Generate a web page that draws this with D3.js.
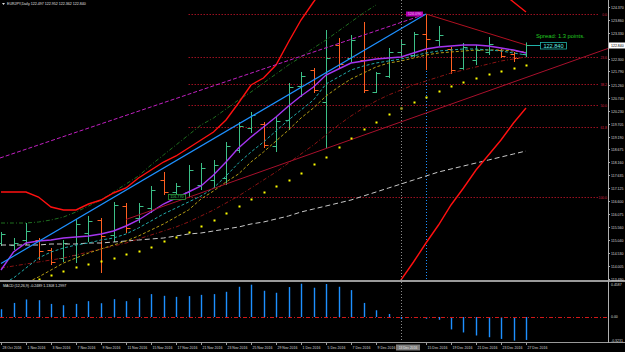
<!DOCTYPE html>
<html>
<head>
<meta charset="utf-8">
<script src="https://cdn.jsdelivr.net/npm/d3@7"></script>
<style>
  html, body { margin: 0; padding: 0; background: #000; }
  svg { display: block; }
  text { font-family: 'Liberation Sans', Arial, sans-serif; }
</style>
</head>
<body>
<div id="chart"></div>
<script>
const dates = ['28 Oct 2016', '31 Oct 2016', '1 Nov 2016', '2 Nov 2016', '3 Nov 2016', '4 Nov 2016', '7 Nov 2016', '8 Nov 2016', '9 Nov 2016', '10 Nov 2016', '11 Nov 2016', '14 Nov 2016', '15 Nov 2016', '16 Nov 2016', '17 Nov 2016', '18 Nov 2016', '21 Nov 2016', '22 Nov 2016', '23 Nov 2016', '24 Nov 2016', '25 Nov 2016', '28 Nov 2016', '29 Nov 2016', '30 Nov 2016', '1 Dec 2016', '2 Dec 2016', '5 Dec 2016', '6 Dec 2016', '7 Dec 2016', '8 Dec 2016', '9 Dec 2016', '12 Dec 2016', '13 Dec 2016', '14 Dec 2016', '15 Dec 2016', '16 Dec 2016', '19 Dec 2016', '20 Dec 2016', '21 Dec 2016', '22 Dec 2016', '23 Dec 2016', '26 Dec 2016', '27 Dec 2016']

const opens = [114.93, 114.85, 115.05, 115.05, 114.65, 114.33, 114.45, 115.33, 115.85, 115.25, 116.41, 115.93, 116.33, 117.45, 116.97, 116.97, 117.25, 117.45, 117.53, 118.65, 119.53, 119.69, 118.81, 119.85, 121.21, 121.85, 120.57, 122.85, 122.33, 122.25, 120.97, 121.61, 122.57, 122.45, 123.29, 123.05, 122.69, 121.93, 122.25, 122.57, 122.65, 122.49, 122.497]
const highs = [115.37, 115.13, 115.73, 115.13, 114.73, 115.05, 115.89, 116.01, 115.93, 116.57, 116.53, 116.53, 117.21, 117.77, 117.33, 118.05, 118.13, 118.25, 118.97, 119.77, 120.17, 119.77, 119.97, 121.33, 121.77, 121.93, 123.45, 123.13, 123.25, 123.77, 121.77, 122.73, 123.05, 123.37, 124.09, 123.61, 122.77, 122.93, 122.85, 123.17, 122.69, 122.57, 122.952]
const lows = [114.81, 114.65, 114.85, 114.25, 114.05, 114.17, 114.13, 114.97, 113.73, 114.97, 115.33, 115.73, 116.13, 116.85, 116.85, 116.77, 117.05, 117.13, 117.25, 118.53, 119.33, 118.73, 118.57, 119.45, 120.77, 120.93, 118.73, 121.93, 122.17, 120.93, 120.93, 121.53, 122.41, 122.37, 121.85, 122.81, 121.69, 121.85, 122.05, 122.45, 122.33, 122.17, 122.362]
const closes = [115.29, 114.93, 115.41, 114.61, 114.17, 114.93, 115.69, 115.81, 115.21, 116.45, 115.53, 116.41, 117.05, 116.97, 117.21, 117.85, 117.93, 118.05, 118.81, 119.61, 120.05, 118.85, 119.81, 121.17, 121.61, 121.05, 122.33, 122.09, 123.05, 121.05, 121.73, 122.57, 122.89, 123.29, 123.09, 123.25, 121.85, 122.77, 122.65, 122.89, 122.41, 122.33, 122.840]

// indicators
const bandUpper = [116.97, 116.97, 116.97, 116.77, 116.37, 116.25, 116.25, 116.49, 116.65, 116.93, 117.13, 117.53, 117.85, 118.17, 118.41, 118.73, 119.05, 119.37, 119.85, 120.53, 121.25, 121.53, 122.05, 122.97, 123.85, 124.57, 125.25, 125.6, 125.9, 126.1, 126.2, 126.3, 126.3, 126.2, 126.0, 125.8, 125.6, 125.45, 125.3, 125.2, 124.97, 124.57, 124.17]
const bandLower = [null, null, null, null, null, null, null, null, null, null, null, null, null, null, null, null, null, null, null, null, null, null, null, null, null, null, null, null, null, null, null, 112.65, 113.45, 114.17, 114.93, 115.65, 116.45, 117.13, 117.85, 118.45, 119.05, 119.73, 120.33]
const maPurple = [113.85, 114.57, 114.93, 115.01, 115.05, 115.13, 115.17, 115.21, 115.29, 115.41, 115.61, 115.85, 116.17, 116.49, 116.73, 116.97, 117.21, 117.65, 118.17, 118.73, 119.17, 119.57, 119.97, 120.41, 120.81, 121.17, 121.65, 121.89, 122.13, 122.21, 122.29, 122.33, 122.37, 122.53, 122.69, 122.77, 122.81, 122.85, 122.85, 122.81, 122.73, 122.65, 122.53]
const maCyan = [113.25, 113.53, 113.93, 114.33, 114.57, 114.73, 114.85, 114.93, 115.05, 115.13, 115.29, 115.53, 115.81, 116.09, 116.33, 116.57, 116.81, 117.13, 117.61, 118.13, 118.57, 118.97, 119.41, 119.85, 120.25, 120.65, 121.29, 121.57, 121.85, 122.01, 122.13, 122.21, 122.29, 122.41, 122.53, 122.61, 122.65, 122.69, 122.69, 122.65, 122.61, 122.53, 122.45]
const maOlive = [112.85, 113.05, 113.33, 113.57, 113.85, 114.13, 114.33, 114.53, 114.69, 114.85, 115.01, 115.21, 115.45, 115.69, 115.97, 116.25, 116.69, 117.01, 117.37, 117.69, 118.17, 118.57, 119.01, 119.45, 119.93, 120.33, 120.81, 121.17, 121.49, 121.73, 121.97, 122.13, 122.21, 122.33, 122.45, 122.53, 122.57, 122.61, 122.65, 122.65, 122.65, 122.61, 122.57]
const maMaroon = [113.93, 114.01, 114.09, 114.17, 114.25, 114.33, 114.45, 114.57, 114.69, 114.81, 114.93, 115.09, 115.25, 115.41, 115.57, 115.77, 116.01, 116.25, 116.53, 116.81, 117.13, 117.45, 117.77, 118.13, 118.49, 118.85, 119.25, 119.65, 120.01, 120.33, 120.61, 120.85, 121.05, 121.25, 121.41, 121.57, 121.73, 121.85, 121.97, 122.09, 122.21, 122.29, 122.37]
const envGreen = [115.73, 115.73, 115.73, 115.77, 115.85, 115.97, 116.17, 116.41, 116.65, 116.97, 117.29, 117.61, 118.05, 118.45, 118.85, 119.25, 119.65, 119.93, 120.29, 120.65, 120.97, 121.33, 121.69, 122.05, 122.37, 122.73, 123.05, 123.41, 123.77, 124.13, 124.45, null, null, null, null, null, null, null, null, null, null, null, null]
const maGray = [114.85, 114.85, 114.85, 114.85, 114.89, 114.89, 114.89, 114.93, 114.93, 114.97, 115.01, 115.05, 115.09, 115.13, 115.21, 115.29, 115.33, 115.41, 115.49, 115.57, 115.69, 115.77, 115.89, 116.01, 116.17, 116.29, 116.41, 116.53, 116.65, 116.81, 116.97, 117.13, 117.29, 117.45, 117.61, 117.77, 117.89, 118.01, 118.13, 118.25, 118.37, 118.49, 118.61]
const sar = [null, null, null, 113.49, 113.65, 113.81, 113.97, 114.09, 114.21, 114.33, 114.49, 114.61, 114.77, 115.01, 115.17, 115.37, 115.61, 115.85, 116.13, 116.41, 116.69, 116.97, 117.21, 117.45, 117.73, 118.09, 118.37, 118.77, 119.13, 119.49, 119.77, 120.09, 120.33, 120.57, 120.77, 121.01, 121.21, 121.37, 121.53, 121.69, 121.81, 121.93, 122.05]
const macdHist = [0.105, 0.19, 0.237, 0.227, 0.177, 0.159, 0.177, 0.214, 0.186, 0.241, 0.214, 0.254, 0.309, 0.286, 0.272, 0.282, 0.299, 0.309, 0.340, 0.408, 0.436, 0.354, 0.327, 0.404, 0.449, 0.395, 0.445, 0.408, 0.363, 0.19, 0.091, 0.041, -0.027, -0.005, -0.023, -0.037, -0.167, -0.208, -0.249, -0.272, -0.295, -0.318, -0.309]

// drawn objects: [bar index, price]
const trendBlue = [[0, 114.11], [34, 124.09]]
const trendMagenta = [[-0.08, 118.33], [34, 124.09]]
const trendPeak = [[34, 124.09], [42, 122.85]]
const trendRising = [[10, 115.87], [49, 122.79]]
const fibHigh = 124.09
const fibLow = 116.77
const fibStart = 15
const fibLevels = [0, 23.6, 38.2, 50, 61.8, 100]

const priceTicks = ['124.370', '123.860', '123.330', '122.300', '121.790', '121.260', '120.740', '120.230', '119.705', '119.190', '118.675', '118.160', '117.635', '117.125', '116.600', '116.075', '115.560', '115.040', '114.530', '114.005', '113.490']
const macdTicks = ['0.4587', '0.00', '-0.3231']
const lastPrice = 122.840
const crossIdx = 32

const W = 625
const H = 352
const axisX = 608
const mainBottom = 280

const svg = d3.select('#chart').append('svg')
  .attr('width', W)
  .attr('height', H)

svg.append('rect').attr('width', W).attr('height', H).attr('fill', '#000')

svg.append('defs').append('clipPath').attr('id', 'mainClip')
  .append('rect').attr('x', 0).attr('y', 0).attr('width', axisX).attr('height', mainBottom)

const x = d3.scaleLinear().domain([0, 42]).range([1, 526])
const y = d3.scaleLinear().domain([113.45, 124.65]).range([mainBottom, 0])
const yM = d3.scaleLinear().domain([-0.3231, 0.4587]).range([341, 283])

const main = svg.append('g').attr('clip-path', 'url(#mainClip)')

// Fibonacci levels
const fibRange = fibHigh - fibLow
fibLevels.forEach(lv => {
  const py = Math.round(y(fibHigh - fibRange * lv / 100)) + 0.5
  main.append('line')
    .attr('x1', x(fibStart)).attr('x2', 598)
    .attr('y1', py).attr('y2', py)
    .attr('stroke', '#9a1020')
    .attr('stroke-dasharray', '1.5,1.5')
  main.append('text')
    .attr('x', 607).attr('y', py + 1.2)
    .attr('text-anchor', 'end')
    .style('font-size', '3.4px')
    .style('fill', '#d02040')
    .text(lv.toFixed(1))
})

// crosshair + peak marker
svg.append('line')
  .attr('x1', Math.round(x(crossIdx)) + 0.5).attr('x2', Math.round(x(crossIdx)) + 0.5)
  .attr('y1', 0).attr('y2', 343)
  .attr('stroke', '#8a8a8a').attr('stroke-dasharray', '1,2')
main.append('line')
  .attr('x1', Math.round(x(34)) + 0.5).attr('x2', Math.round(x(34)) + 0.5)
  .attr('y1', y(fibHigh)).attr('y2', mainBottom)
  .attr('stroke', '#1e90ff').attr('stroke-dasharray', '1,2')

// OHLC bars
const bars = main.append('g')
dates.forEach((d, i) => {
  const bx = Math.round(x(i)) + 0.5
  const col = closes[i] >= opens[i] ? '#3cc088' : '#ff6020'
  bars.append('line').attr('x1', bx).attr('x2', bx)
    .attr('y1', y(highs[i])).attr('y2', y(lows[i]))
    .attr('stroke', col)
  bars.append('line').attr('x1', bx - 4).attr('x2', bx)
    .attr('y1', Math.round(y(opens[i])) + 0.5).attr('y2', Math.round(y(opens[i])) + 0.5)
    .attr('stroke', col)
  bars.append('line').attr('x1', bx).attr('x2', bx + 4)
    .attr('y1', Math.round(y(closes[i])) + 0.5).attr('y2', Math.round(y(closes[i])) + 0.5)
    .attr('stroke', col)
})

// indicator lines
const series = d3.line()
  .defined(d => d != null)
  .x((d, i) => x(i))
  .y(d => y(d))

const addSeries = (data, color, width, dash) => {
  main.append('path')
    .datum(data)
    .attr('d', series)
    .attr('fill', 'none')
    .attr('stroke', color)
    .attr('stroke-width', width)
    .attr('stroke-dasharray', dash || null)
}

addSeries(maGray, '#c8c8c8', 1, '5,3')
addSeries(maMaroon, '#8c1414', 1, '4,2,1,2')
addSeries(envGreen, '#1f6e1f', 1, '4,2,1,2')
addSeries(maOlive, '#b49c14', 1, '3,2')
addSeries(maCyan, '#22a8a8', 1, '3,2')
addSeries(maPurple, '#a535f0', 1.4)
addSeries(bandUpper, '#ff1010', 1.4)
addSeries(bandLower, '#ff1010', 1.4)

const trend = d3.line().x(d => x(d[0])).y(d => y(d[1]))
const addTrend = (data, color, width, dash) => {
  main.append('path')
    .datum(data)
    .attr('d', trend)
    .attr('fill', 'none')
    .attr('stroke', color)
    .attr('stroke-width', width)
    .attr('stroke-dasharray', dash || null)
}
addTrend(trendMagenta, '#c020c0', 1, '4,2')
addTrend(trendRising, '#a8102c', 1)
addTrend(trendPeak, '#b01020', 1)
addTrend(trendBlue, '#1e90ff', 1.2)

// parabolic SAR
main.selectAll('.sar')
  .data(sar.map((v, i) => [i, v]).filter(d => d[1] != null))
  .join('rect')
  .attr('class', 'sar')
  .attr('x', d => Math.round(x(d[0])) - 0.5)
  .attr('y', d => Math.round(y(d[1])) - 0.5)
  .attr('width', 2).attr('height', 2)
  .attr('fill', '#ffff00')

// peak / low labels
svg.append('rect').attr('x', 406).attr('y', y(fibHigh) - 2.5).attr('width', 17).attr('height', 5)
  .attr('fill', '#b000b0')
svg.append('text').attr('x', 414.5).attr('y', y(fibHigh) + 1.4)
  .attr('text-anchor', 'middle').style('font-size', '3.8px').style('fill', '#f0b0f0')
  .text(fibHigh.toFixed(3))
svg.append('rect').attr('x', 168.5).attr('y', y(fibLow) - 2.5).attr('width', 17).attr('height', 5)
  .attr('fill', '#000').attr('stroke', '#2a9a3a').attr('stroke-width', 0.8)
svg.append('text').attr('x', 177).attr('y', y(fibLow) + 1.4)
  .attr('text-anchor', 'middle').style('font-size', '3.8px').style('fill', '#3cc060')
  .text(fibLow.toFixed(3))

// spread + price box
svg.append('text').attr('x', 536).attr('y', 37.5)
  .style('font-size', '5.8px').style('fill', '#22cc22')
  .text('Spread: 1.3 points.')
svg.append('line').attr('x1', 530).attr('x2', 540)
  .attr('y1', Math.round(y(lastPrice)) + 0.5).attr('y2', Math.round(y(lastPrice)) + 0.5)
  .attr('stroke', '#20b2aa')
svg.append('rect').attr('x', 540.5).attr('y', 42.5).attr('width', 26).attr('height', 6.5)
  .attr('fill', '#000').attr('stroke', '#20b2aa').attr('stroke-width', 0.8)
svg.append('text').attr('x', 553.5).attr('y', 47.8)
  .attr('text-anchor', 'middle').style('font-size', '5.6px').style('fill', '#5fe8e0')
  .text(lastPrice.toFixed(3))

// title
svg.append('path').attr('d', 'M2,3 L5,3 L3.5,5 Z').attr('fill', '#ddd')
svg.append('text').attr('x', 7).attr('y', 5.2)
  .style('font-size', '3.6px').style('fill', '#e0e0e0')
  .text('EURJPY,Daily  ' + [opens[42], highs[42], lows[42], closes[42]].map(v => v.toFixed(3)).join(' '))

// MACD panel
svg.selectAll('.macd')
  .data(macdHist)
  .join('rect')
  .attr('class', 'macd')
  .attr('x', (d, i) => Math.round(x(i)) - 0.2)
  .attr('width', 1.4)
  .attr('y', d => Math.min(yM(d), yM(0)))
  .attr('height', d => Math.abs(yM(d) - yM(0)))
  .attr('fill', '#1e90ff')
svg.append('line').attr('x1', 0).attr('x2', axisX)
  .attr('y1', Math.round(yM(0)) + 0.5).attr('y2', Math.round(yM(0)) + 0.5)
  .attr('stroke', '#d01818').attr('stroke-dasharray', '4,2,1,2')
svg.append('text').attr('x', 3).attr('y', 286.5)
  .style('font-size', '3.6px').style('fill', '#e0e0e0')
  .text('MACD (12,26,9) -0.2489 1.1308 1.2997')

// panel frames
svg.append('line').attr('x1', 0).attr('x2', W).attr('y1', 281).attr('y2', 281)
  .attr('stroke', '#9a9a9a').attr('stroke-width', 2)
svg.append('line').attr('x1', 0).attr('x2', W).attr('y1', 342.5).attr('y2', 342.5)
  .attr('stroke', '#9a9a9a')
svg.append('line').attr('x1', axisX + 0.5).attr('x2', axisX + 0.5).attr('y1', 0).attr('y2', 343)
  .attr('stroke', '#b0b0b0')

// price axis
const yAxis = svg.append('g')
priceTicks.forEach(t => {
  const py = Math.round(y(+t)) + 0.5
  yAxis.append('line').attr('x1', axisX).attr('x2', axisX + 2).attr('y1', py).attr('y2', py).attr('stroke', '#b0b0b0')
  yAxis.append('text').attr('x', 611).attr('y', py + 1.3)
    .style('font-size', '3.5px').style('fill', '#d8d8d8').text(t)
})
svg.append('rect').attr('x', 609).attr('y', Math.round(y(lastPrice)) - 2.5).attr('width', 16).attr('height', 6)
  .attr('fill', '#fff')
svg.append('text').attr('x', 611).attr('y', Math.round(y(lastPrice)) + 1.8)
  .style('font-size', '3.5px').style('fill', '#000').text(lastPrice.toFixed(3))

// MACD axis
const macdPos = [0.4587, 0, -0.3231]
macdTicks.forEach((t, k) => {
  const py = Math.min(Math.max(yM(macdPos[k]), 284.5), 340.5)
  svg.append('text').attr('x', 611).attr('y', py + 1.3)
    .style('font-size', '3.5px').style('fill', '#d8d8d8').text(t)
})

// date axis (the crosshair box hides the label under it)
dates.forEach((d, i) => {
  if (i % 2 || i === crossIdx) return
  const tx = Math.round(x(i)) + 0.5
  svg.append('line').attr('x1', tx).attr('x2', tx).attr('y1', 343).attr('y2', 345).attr('stroke', '#9a9a9a')
  svg.append('text').attr('x', tx + 1).attr('y', 349)
    .style('font-size', '3.5px').style('fill', '#d8d8d8').text(d)
})
svg.append('rect').attr('x', 396).attr('y', 344.5).attr('width', 24).attr('height', 6)
  .attr('fill', '#7c7c7c')
svg.append('text').attr('x', 408).attr('y', 349)
  .attr('text-anchor', 'middle').style('font-size', '3.3px').style('fill', '#e8e8e8')
  .text(dates[crossIdx])
</script>
</body>
</html>
